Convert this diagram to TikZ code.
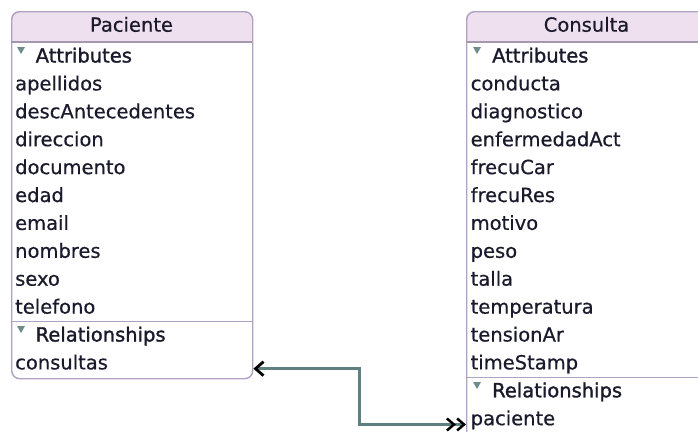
\documentclass[tikz,border=0pt]{standalone}
\usepackage{fontspec}
\setmainfont{DejaVu Sans}
\usetikzlibrary{arrows.meta,calc}
\definecolor{headfill}{HTML}{EEE0EE}
\definecolor{boxline}{HTML}{B0A2C2}
\definecolor{headline}{HTML}{A498AE}
\definecolor{txt}{HTML}{1A1A2C}
\definecolor{tri}{HTML}{6F8C8C}
\definecolor{conn}{HTML}{5E8080}
\begin{document}
\begin{tikzpicture}[x=1pt,y=-1pt,
  lbl/.style={anchor=base west, inner sep=0pt, text=txt, font=\fontsize{19.5}{20}\selectfont\addfontfeature{FakeBold=0.5}},
  sec/.style={anchor=base west, inner sep=0pt, text=txt, font=\fontsize{19.5}{20}\selectfont\addfontfeature{FakeBold=1.4}},
  ttl/.style={anchor=base, inner sep=0pt, text=txt, font=\fontsize{19.5}{20}\selectfont\addfontfeature{FakeBold=0.5}},
  entity/.style={draw=boxline, line width=1.4pt, rounded corners=8pt, anchor=north west, inner sep=0pt},
  sepline/.style={draw=boxline, line width=1.4pt},
  hdline/.style={draw=headline, line width=2.2pt},
  relarrow/.style={draw=conn, line width=2.5pt,
    {Straight Barb[length=8pt,width=14pt,line width=2.8pt,color=black]}-{Straight Barb[length=7pt,width=12pt,line width=2.5pt,color=black]Straight Barb[length=7pt,width=12pt,line width=2.5pt,color=black]}}
]
\useasboundingbox (0,0) rectangle (698,431);
\clip (0,0) rectangle (698,431);
\fill[white] (0,0) rectangle (698,431);

% ---------- Paciente ----------
\fill[headfill] (11,42) [rounded corners=8pt] -- (11,11) -- (252,11) [sharp corners] -- (252,42) -- cycle;
\node[entity, minimum width=241pt, minimum height=367pt] (pacbox) at (11,11) {};
\draw[hdline] (11,42) -- (252,42);
\node[ttl] (ptitle) at (131.5,31.7) {Paciente};
\fill[tri] (17,47) -- (25,47) -- (21,54) -- cycle;
\node[sec] (patt) at (35.5,62.5) {Attributes};
\foreach \t [count=\k] in {apellidos,descAntecedentes,direccion,documento,edad,email,nombres,sexo,telefono}
  \node[lbl] (pa\k) at (15,62.5+27.9*\k) {\t};
\draw[sepline] (11,321.5) -- (252,321.5);
\fill[tri] (17,326) -- (25,326) -- (21,333) -- cycle;
\node[sec] (prel) at (35.5,341.5) {Relationships};
\node[lbl] (pcons) at (15,369.4) {consultas};

% ---------- Consulta ----------
\fill[headfill] (466,42) [rounded corners=8pt] -- (466,11) -- (707,11) [sharp corners] -- (707,42) -- cycle;
\node[entity, minimum width=241pt, minimum height=460pt] (conbox) at (466,11) {};
\draw[hdline] (466,42) -- (707,42);
\node[ttl] (ctitle) at (586.5,31.7) {Consulta};
\fill[tri] (473,47) -- (481,47) -- (477,54) -- cycle;
\node[sec] (catt) at (492,62.5) {Attributes};
\foreach \t [count=\k] in {conducta,diagnostico,enfermedadAct,frecuCar,frecuRes,motivo,peso,talla,temperatura,tensionAr,timeStamp}
  \node[lbl] (ca\k) at (470.5,62.5+27.9*\k) {\t};
\draw[sepline] (466,377.3) -- (707,377.3);
\fill[tri] (473,382) -- (481,382) -- (477,389) -- cycle;
\node[sec] (crel) at (492,397.3) {Relationships};
\node[lbl] (cpac) at (470.5,425.2) {paciente};

% ---------- relationship connector ----------
\coordinate (rA) at ([yshift=-2pt]pacbox.east |- pcons.mid);
\coordinate (rB) at ([yshift=-2pt]conbox.west |- cpac.mid);
\draw[relarrow] (rA) -| ($(rA)!0.5!(rB)$) |- (rB);
\end{tikzpicture}
\end{document}
